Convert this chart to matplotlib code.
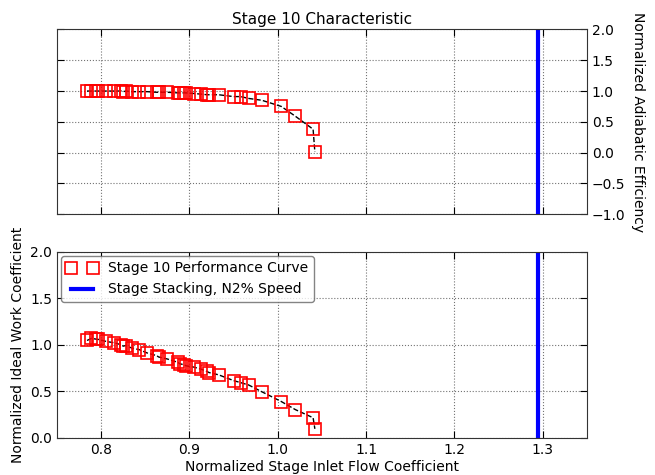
import numpy as np
import matplotlib
matplotlib.use("Agg")
import matplotlib.pyplot as plt

# ── Data ─────────────────────────────────────────────────────────────────────
flow = [0.784, 0.789, 0.794, 0.797, 0.806, 0.815, 0.823, 0.825, 0.828, 0.835,
        0.843, 0.852, 0.863, 0.865, 0.875, 0.887, 0.889, 0.894, 0.896, 0.905,
        0.913, 0.920, 0.922, 0.933, 0.950, 0.958, 0.967, 0.982, 1.004, 1.020,
        1.040, 1.042]
efficiency = [1.00, 1.00, 1.00, 1.00, 1.00, 1.00, 1.00, 0.99, 1.00, 0.99,
              0.99, 0.99, 0.98, 0.98, 0.98, 0.97, 0.97, 0.97, 0.97, 0.96,
              0.95, 0.94, 0.94, 0.94, 0.91, 0.91, 0.88, 0.85, 0.75, 0.59,
              0.38, 0.01]
work = [1.047, 1.069, 1.062, 1.058, 1.036, 1.022, 1.000, 0.986, 0.993, 0.964,
        0.949, 0.913, 0.884, 0.870, 0.848, 0.812, 0.797, 0.786, 0.775, 0.761,
        0.739, 0.714, 0.703, 0.678, 0.616, 0.594, 0.569, 0.496, 0.391, 0.304,
        0.217, 0.098]
stacking_flow = 1.295   # stage stacking operating point, N2% speed

# ── Style ────────────────────────────────────────────────────────────────────
plt.rcParams["font.family"] = "DejaVu Sans"
plt.rcParams["font.size"] = 10
plt.rcParams["xtick.direction"] = "in"
plt.rcParams["ytick.direction"] = "in"

fig = plt.figure(figsize=(6.55, 4.75), dpi=100)
ax1 = fig.add_axes([0.087, 0.549, 0.809, 0.389])
ax2 = fig.add_axes([0.087, 0.078, 0.809, 0.392])

mk = dict(marker="s", linestyle="none", markersize=8, markerfacecolor="none",
          markeredgecolor="red", markeredgewidth=1.2)

for ax in (ax1, ax2):
    ax.set_xlim(0.75, 1.35)
    ax.set_xticks([0.8, 0.9, 1.0, 1.1, 1.2, 1.3])
    ax.grid(True, color="0.45", linestyle=":", linewidth=0.8)
    ax.tick_params(top=True, right=True, length=5, labelsize=10)
    for s in ax.spines.values():
        s.set_color("0.2")

# Top: efficiency
ax1.plot(flow, efficiency, "k--", linewidth=1, zorder=2)
ax1.plot(flow, efficiency, zorder=3, **mk)
ax1.axvline(stacking_flow, color="blue", linewidth=3)
ax1.set_ylim(-1.0, 2.0)
ax1.set_yticks(np.arange(-1.0, 2.01, 0.5))
ax1.yaxis.tick_right()
ax1.tick_params(left=True, right=True, labelbottom=False)
ax1.yaxis.set_label_position("right")
ax1.set_ylabel("Normalized Adiabatic Efficiency", rotation=-90, labelpad=14)
ax1.set_title("Stage 10 Characteristic", fontsize=11, pad=4)

# Bottom: ideal work coefficient
ax2.plot(flow, work, "k--", linewidth=1, zorder=2)
ax2.plot(flow, work, zorder=3, label="Stage 10 Performance Curve", **mk)
ax2.axvline(stacking_flow, color="blue", linewidth=3,
            label="Stage Stacking, N2% Speed")
ax2.set_ylim(0.0, 2.0)
ax2.set_yticks(np.arange(0.0, 2.01, 0.5))
ax2.set_ylabel("Normalized Ideal Work Coefficient")
ax2.set_xlabel("Normalized Stage Inlet Flow Coefficient", labelpad=2)
leg = ax2.legend(loc="upper left", numpoints=2, fontsize=10,
                 borderaxespad=0.3, handlelength=2.2)
leg.get_frame().set_edgecolor("0.4")

fig.savefig("out.png", dpi=100)
